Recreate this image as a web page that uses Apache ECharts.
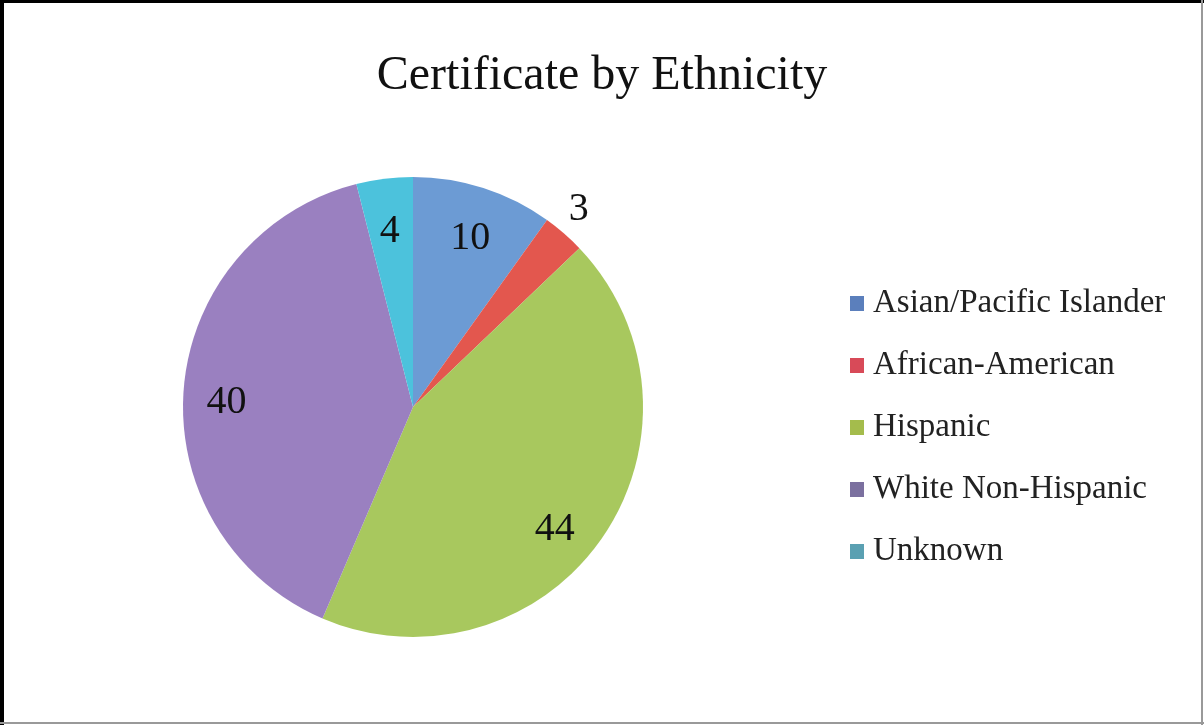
<!DOCTYPE html>
<html>
<head>
<meta charset="utf-8">
<script src="https://cdn.jsdelivr.net/npm/echarts@6/dist/echarts.min.js"></script>
<style>
html,body{margin:0;padding:0;background:#fff;}
#chart{width:1204px;height:725px;}
</style>
</head>
<body>
<div id="chart"></div>
<script>
const categories = ['Asian/Pacific Islander', 'African-American', 'Hispanic', 'White Non-Hispanic', 'Unknown'];
const values = [10, 3, 44, 40, 4];
const sliceColors = ['#6c9bd4', '#e3574e', '#a8c85e', '#9a80c0', '#4cc2dc'];
const legendColors = ['#5b7fbc', '#d84a58', '#a4bc4c', '#7b709f', '#5aa0b2'];
const titleText = 'Certificate by Ethnicity';

const serif = '"Liberation Serif", "DejaVu Serif", serif';
const R = 230;
const center = [413, 407];

const pieData = categories.map((c, i) => ({ name: c, value: values[i], itemStyle: { color: sliceColors[i] } }));
const labelData = categories.map((c, i) => {
  const d = { name: c, value: values[i] };
  if (values[i] < 4) {
    d.label = { position: 'outside', formatter: '{c}\n', lineHeight: 48, color: '#111' };
    d.labelLine = { show: false, length: 0, length2: 0 };
  } else if (values[i] === 44) {
    d.label = { padding: [0, 24, 0, 0], lineHeight: 32 };
  }
  return d;
});

const chart = echarts.init(document.getElementById('chart'), null, { renderer: 'canvas' });
chart.setOption({
  animation: false,
  backgroundColor: '#fff',
  title: {
    text: titleText,
    left: 'center',
    top: 47,
    textStyle: { fontFamily: serif, fontSize: 48, fontWeight: 'normal', color: '#111' }
  },
  legend: {
    orient: 'vertical',
    left: 845,
    top: 282,
    itemWidth: 14,
    itemHeight: 15,
    itemGap: 29,
    icon: 'rect',
    textStyle: { fontFamily: serif, fontSize: 33, color: '#222', padding: [0, 0, 0, 4] },
    data: categories.map((c, i) => ({ name: c, itemStyle: { color: legendColors[i] } }))
  },
  series: [
    {
      type: 'pie',
      center: center,
      radius: [0, R],
      startAngle: 90,
      clockwise: true,
      label: { show: false },
      labelLine: { show: false },
      itemStyle: { borderWidth: 0 },
      emphasis: { disabled: true },
      data: pieData
    },
    {
      type: 'pie',
      center: center,
      radius: [R * 0.6, R],
      startAngle: 90,
      clockwise: true,
      silent: true,
      itemStyle: { color: 'rgba(0,0,0,0)', borderWidth: 0 },
      label: { show: true, position: 'inside', formatter: '\n{c}', lineHeight: 20, fontFamily: serif, fontSize: 40, color: '#111' },
      labelLine: { show: false },
      emphasis: { disabled: true },
      data: labelData
    }
  ],
  graphic: [
    { type: 'rect', shape: { x: 0, y: 0, width: 1204, height: 3 }, style: { fill: '#000' } },
    { type: 'rect', shape: { x: 0, y: 0, width: 4, height: 725 }, style: { fill: '#000' } },
    { type: 'rect', shape: { x: 1201, y: 0, width: 2, height: 725 }, style: { fill: '#999' } },
    { type: 'rect', shape: { x: 0, y: 722, width: 1204, height: 2 }, style: { fill: '#999' } }
  ]
});
</script>
</body>
</html>
